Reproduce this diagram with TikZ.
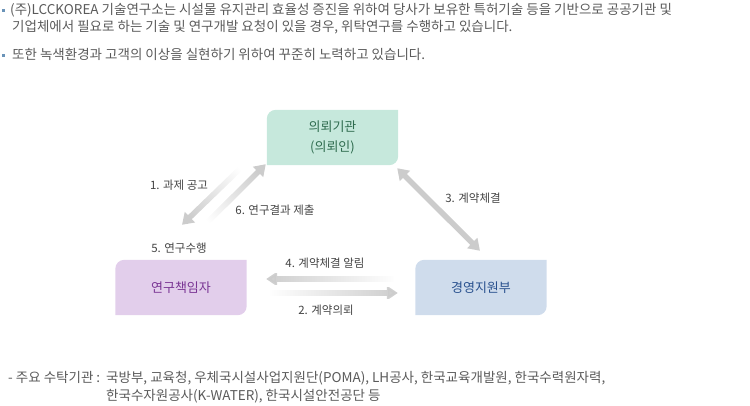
\documentclass[tikz,border=0pt]{standalone}
\usepackage{fontspec}
\setmainfont{Noto Sans CJK KR}
\usepackage{xcolor}
\usepackage{tikz}
\usetikzlibrary{arrows.meta,fadings,backgrounds}

\definecolor{boxmint}{HTML}{C6E8DC}
\definecolor{boxlilac}{HTML}{E2CEEB}
\definecolor{boxblue}{HTML}{CFDCEC}
\definecolor{txtgreen}{HTML}{2E6B4E}
\definecolor{txtpurple}{HTML}{7A3594}
\definecolor{txtblue}{HTML}{28508E}
\definecolor{arrowgray}{HTML}{CCCCCC}
\definecolor{labelgray}{HTML}{444444}
\definecolor{bodygray}{HTML}{5A5A5A}
\definecolor{bulletblue}{HTML}{6A93B8}

\tikzfading[name=tailfade, left color=transparent!100, middle color=transparent!0, right color=transparent!0]

\newcommand\cardfill[2]{%
  \fill[#2] (#1.south west) -- ([yshift=-9pt]#1.north west)
    arc[start angle=180, end angle=90, radius=9pt] -- (#1.north east)
    -- ([yshift=9pt]#1.south east)
    arc[start angle=0, end angle=-90, radius=9pt] -- cycle;}

\begin{document}
\begin{tikzpicture}[>=Latex, x=1pt, y=1pt,
    card/.style={inner sep=0pt, minimum width=131pt, minimum height=55pt, align=center,
      font=\fontsize{13}{20}\selectfont},
    flow/.style={draw=arrowgray, line width=5.5pt, arrows={-Triangle[length=11pt, width=14pt]}},
    twoway/.style={draw=arrowgray, line width=5.5pt, arrows={Triangle[length=11pt, width=14pt]-Triangle[length=11pt, width=14pt]}},
    steplabel/.style={text=labelgray, font=\fontsize{11.5}{14}\selectfont, inner sep=0pt},
    bodytext/.style={text=bodygray, font=\fontsize{13.5}{17}\selectfont, inner sep=0pt, align=left}]
  \useasboundingbox (0,0) rectangle (750,406);

  % intro text
  \fill[bulletblue] (2,394) rectangle ++(3,3);
  \fill[bulletblue] (2,348.5) rectangle ++(3,3);
  \node[bodytext, anchor=base west] (intro) at (10,374.5)
    {(주)LCCKOREA 기술연구소는 시설물 유지관리 효율성 증진을 위하여 당사가 보유한 특허기술 등을 기반으로 공공기관 및\\
     \hspace{2pt}기업체에서 필요로 하는 기술 및 연구개발 요청이 있을 경우, 위탁연구를 수행하고 있습니다.};
  \node[bodytext, anchor=base west] (goal) at (12,346)
    {또한 녹색환경과 고객의 이상을 실현하기 위하여 꾸준히 노력하고 있습니다.};

  % three parties
  \node[card, text=txtgreen] (client) at (332.5,268.5) {의뢰기관\\(의뢰인)};
  \node[card, text=txtpurple] (lead) at (181,118.5) {연구책임자};
  \node[card, text=txtblue] (mgmt) at (481,118.5) {경영지원부};
  \begin{scope}[on background layer]
    \cardfill{client}{boxmint}
    \cardfill{lead}{boxlilac}
    \cardfill{mgmt}{boxblue}
  \end{scope}

  % flows
  \draw[flow, path fading=tailfade, fading angle=225]
    ([shift={(-19,4)}]client.south west) -- ([shift={(1,35)}]lead.north);
  \draw[flow, path fading=tailfade, fading angle=45]
    ([shift={(19,30)}]lead.north) -- ([shift={(-1,1)}]client.south west);
  \draw[twoway] ([shift={(-1,-3)}]client.south east) -- ([shift={(-1,9)}]mgmt.north);
  \draw[flow, path fading=tailfade, fading angle=180]
    ([shift={(-21.5,8.5)}]mgmt.west) -- ([shift={(19.5,8.5)}]lead.east);
  \draw[flow, path fading=tailfade]
    ([shift={(23.5,-5.5)}]lead.east) -- ([shift={(-17.5,-5.5)}]mgmt.west);

  \node[steplabel] (ann) at (179,221) {1. 과제 공고};
  \node[steplabel] (res) at (275,196) {6. 연구결과 제출};
  \node[steplabel] (run) at (179,158) {5. 연구수행};
  \node[steplabel] (sign) at (473,208) {3. 계약체결};
  \node[steplabel] (note) at (325,143) {4. 계약체결 알림};
  \node[steplabel] (req) at (326,96) {2. 계약의뢰};

  % partner list
  \node[bodytext, font=\fontsize{13.5}{18}\selectfont, anchor=base west] (partners) at (8,23.5)
    {\begin{tabular}[t]{@{}l@{\hspace{6pt}}l@{}}
       - 주요 수탁기관 : & 국방부, 교육청, 우체국시설사업지원단(POMA), LH공사, 한국교육개발원, 한국수력원자력,\\
                        & 한국수자원공사(K-WATER), 한국시설안전공단 등
     \end{tabular}};
\end{tikzpicture}
\end{document}
